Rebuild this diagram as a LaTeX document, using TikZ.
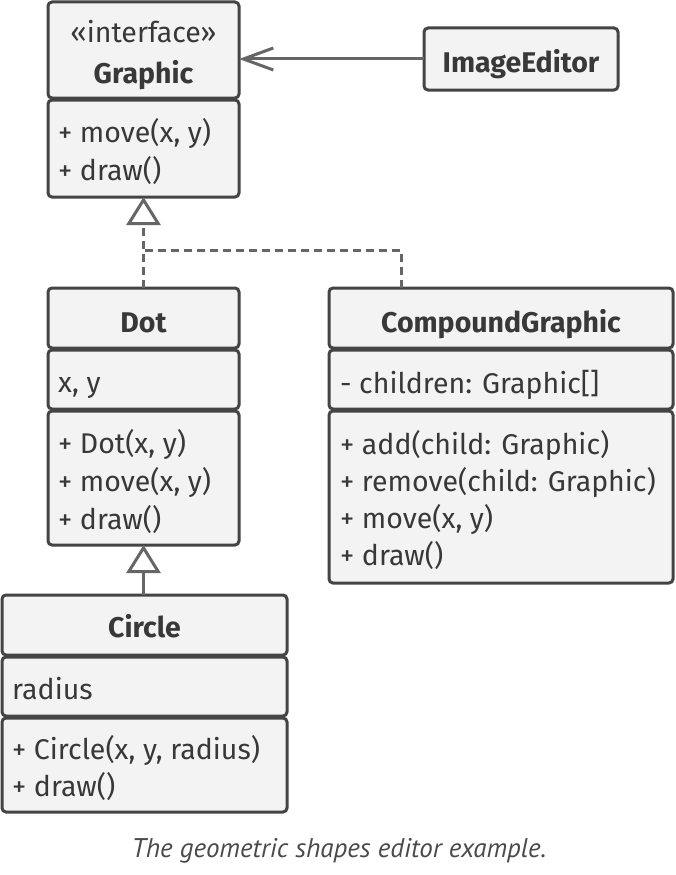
\documentclass[tikz,border=0pt]{standalone}
\usepackage{fontspec}
\setmainfont{Fira Sans}
\newfontfamily\capfont{PT Sans}
\usetikzlibrary{arrows.meta}
\definecolor{boxline}{HTML}{444444}
\definecolor{boxfill}{HTML}{F3F3F3}
\definecolor{linkline}{HTML}{666666}
\definecolor{txtcol}{HTML}{383838}
\definecolor{capcol}{HTML}{4A4A4A}
\begin{document}
\begin{tikzpicture}[x=1pt,y=-1pt,
  comp/.style={draw=boxline,fill=boxfill,line width=3pt,rounded corners=4pt,
    outer sep=0pt,inner sep=0pt,anchor=north west},
  txt/.style={text=txtcol,inner sep=0pt,font=\fontsize{28.5}{34}\selectfont},
  ttl/.style={txt,font=\fontsize{28.5}{34}\selectfont\bfseries},
  link/.style={draw=linkline,line width=3pt},
  realize/.style={link,dash pattern=on 8pt off 5pt},
  inherit/.style={-{Triangle[open,length=28pt,width=34pt,line width=3pt]}},
  assoc/.style={link,-{Straight Barb[length=30pt,width=22pt,line width=3pt]}}]
\useasboundingbox (0,0) rectangle (676,875);

% Graphic (interface)
\node[comp,minimum width=191pt,minimum height=96pt] (gH) at (48,2) {};
\node[comp,minimum width=191pt,minimum height=97pt] (gM) at (48,100) {};
\node[txt,anchor=base] (gS) at (143.5,43) {«interface»};
\node[ttl,anchor=base] (gN) at (143.5,83) {Graphic};
\node[txt,anchor=base west] (gM1) at (58,142) {+ move(x, y)};
\node[txt,anchor=base west] (gM2) at (58,180) {+ draw()};

% ImageEditor
\node[comp,minimum width=194pt,minimum height=62pt] (ed) at (424,28) {};
\node[ttl,anchor=base] (edN) at (521,72) {ImageEditor};

% Dot
\node[comp,minimum width=191pt,minimum height=60pt] (dH) at (48,288) {};
\node[comp,minimum width=191pt,minimum height=59pt] (dA) at (48,350) {};
\node[comp,minimum width=191pt,minimum height=134pt] (dM) at (48,411) {};
\node[ttl,anchor=base] (dN) at (143.5,332) {Dot};
\node[txt,anchor=base west] (dA1) at (58,392) {x, y};
\node[txt,anchor=base west] (dM1) at (58,453) {+ Dot(x, y)};
\node[txt,anchor=base west] (dM2) at (58,491) {+ move(x, y)};
\node[txt,anchor=base west] (dM3) at (58,529) {+ draw()};

% CompoundGraphic
\node[comp,minimum width=344pt,minimum height=60pt] (cH) at (329,288) {};
\node[comp,minimum width=344pt,minimum height=59pt] (cA) at (329,350) {};
\node[comp,minimum width=344pt,minimum height=172pt] (cM) at (329,411) {};
\node[ttl,anchor=base] (cN) at (501,332) {CompoundGraphic};
\node[txt,anchor=base west] (cA1) at (340,393) {- children: Graphic[]};
\node[txt,anchor=base west] (cM1) at (340,454) {+ add(child: Graphic)};
\node[txt,anchor=base west] (cM2) at (340,491) {+ remove(child: Graphic)};
\node[txt,anchor=base west] (cM3) at (340,528) {+ move(x, y)};
\node[txt,anchor=base west] (cM4) at (340,565) {+ draw()};

% Circle
\node[comp,minimum width=285pt,minimum height=60pt] (kH) at (2,595) {};
\node[comp,minimum width=285pt,minimum height=59pt] (kA) at (2,657) {};
\node[comp,minimum width=285pt,minimum height=94pt] (kM) at (2,718) {};
\node[ttl,anchor=base] (kN) at (144.5,637) {Circle};
\node[txt,anchor=base west] (kA1) at (12,699) {radius};
\node[txt,anchor=base west] (kM1) at (12,759) {+ Circle(x, y, radius)};
\node[txt,anchor=base west] (kM2) at (12,796) {+ draw()};

% caption
\node[text=capcol,inner sep=0pt,anchor=base,font=\capfont\itshape\fontsize{27}{32}\selectfont] (cap) at (339,857) {The geometric shapes editor example.};

% connectors
\coordinate (split) at (143.5,250);
\coordinate (cdrop) at (401,250);
\draw[realize] (cH.north -| cdrop) -- (cdrop) -- (split);
\draw[realize,inherit] (dH.north) -- (gM.south);
\draw[link,inherit] (kH.north -| dM.south) -- (dM.south);
\draw[assoc] (ed.west) -- (ed.west -| gH.east);
\end{tikzpicture}
\end{document}
